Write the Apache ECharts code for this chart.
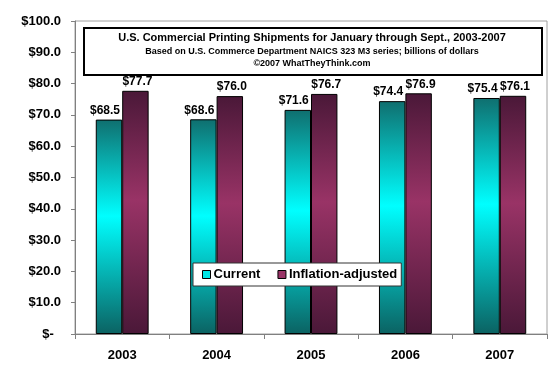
<!DOCTYPE html>
<html>
<head>
<meta charset="utf-8">
<script src="https://cdn.jsdelivr.net/npm/echarts@6/dist/echarts.min.js"></script>
<style>html,body{margin:0;padding:0;background:#fff}#c{width:550px;height:376px}</style>
</head>
<body>
<div id="c"></div>
<script>
var categories = ['2003', '2004', '2005', '2006', '2007'];
var currentValues = [68.5, 68.6, 71.6, 74.4, 75.4];
var inflationValues = [77.7, 76.0, 76.7, 76.9, 76.1];
var seriesNames = ['Current', 'Inflation-adjusted'];
var titleLines = [
  'U.S. Commercial Printing Shipments for January through Sept., 2003-2007',
  'Based on U.S. Commerce Department NAICS 323 M3 series; billions of dollars',
  '\u00a92007 WhatTheyThink.com'
];

var FONT = 'Arial, "Liberation Sans", sans-serif';
var chart = echarts.init(document.getElementById('c'));

function grad(top, mid, bot) {
  return new echarts.graphic.LinearGradient(0, 0, 0, 1, [
    {offset: 0, color: top}, {offset: 0.45, color: mid}, {offset: 1, color: bot}
  ]);
}

function labelCfg(dx) {
  return {
    show: true, position: 'top', distance: 3, offset: [dx, 0],
    fontFamily: FONT, fontWeight: 'bold', fontSize: 12, color: '#000',
    formatter: function (p) { return '$' + p.value.toFixed(1); }
  };
}

chart.setOption({
  animation: false,
  backgroundColor: '#fff',
  grid: {left: 75, right: 3, top: 21, bottom: 42, show: true, borderColor: '#a0a0a0', borderWidth: 1},
  title: {
    text: titleLines[0],
    subtext: titleLines[1] + '\n' + titleLines[2],
    left: 312, top: 31, textAlign: 'center', itemGap: 1, padding: 0,
    textStyle: {fontFamily: FONT, fontWeight: 'bold', fontSize: 11, color: '#000', lineHeight: 14},
    subtextStyle: {fontFamily: FONT, fontWeight: 'bold', fontSize: 9, color: '#000', lineHeight: 11.5}
  },
  graphic: [{
    type: 'rect', z: 100, silent: true,
    shape: {x: 84, y: 28, width: 458, height: 47},
    style: {fill: 'none', stroke: '#000', lineWidth: 2}
  }],
  legend: {
    data: [
      {name: seriesNames[0], icon: 'rect', itemStyle: {color: '#00e8e8', borderColor: '#000', borderWidth: 1}},
      {name: seriesNames[1], icon: 'rect', itemStyle: {color: '#993366', borderColor: '#000', borderWidth: 1}}
    ],
    left: 193, top: 263, orient: 'horizontal',
    itemWidth: 8, itemHeight: 8, itemGap: 17,
    padding: [5, 4, 5, 9],
    backgroundColor: '#fff', borderColor: '#333', borderWidth: 1,
    textStyle: {fontFamily: FONT, fontWeight: 'bold', fontSize: 13, color: '#000', padding: [2, 0, 0, -2]}
  },
  xAxis: {
    type: 'category', data: categories,
    axisLine: {lineStyle: {color: '#808080'}},
    axisTick: {show: true, alignWithLabel: false, length: 5, lineStyle: {color: '#808080'}},
    axisLabel: {fontFamily: FONT, fontWeight: 'bold', fontSize: 13, color: '#000', margin: 15}
  },
  yAxis: {
    type: 'value', min: 0, max: 100, interval: 10,
    splitLine: {show: false},
    axisLine: {show: true, lineStyle: {color: '#808080'}},
    axisTick: {show: true, length: 4, lineStyle: {color: '#808080'}},
    axisLabel: {
      fontFamily: FONT, fontWeight: 'bold', fontSize: 13, color: '#000', margin: 14,
      formatter: function (v) { return v === 0 ? '$-\u00a0\u00a0' : '$' + v.toFixed(1); }
    }
  },
  series: [{
    name: seriesNames[0], type: 'bar', data: currentValues,
    barGap: '0%', barCategoryGap: '44%',
    itemStyle: {color: grad('#0f6f6f', '#00ffff', '#0b6262'), borderColor: '#000', borderWidth: 1},
    label: labelCfg(-4)
  }, {
    name: seriesNames[1], type: 'bar', data: inflationValues,
    itemStyle: {color: grad('#4a1838', '#993366', '#4a1838'), borderColor: '#000', borderWidth: 1},
    label: labelCfg(2)
  }]
});
</script>
</body>
</html>
